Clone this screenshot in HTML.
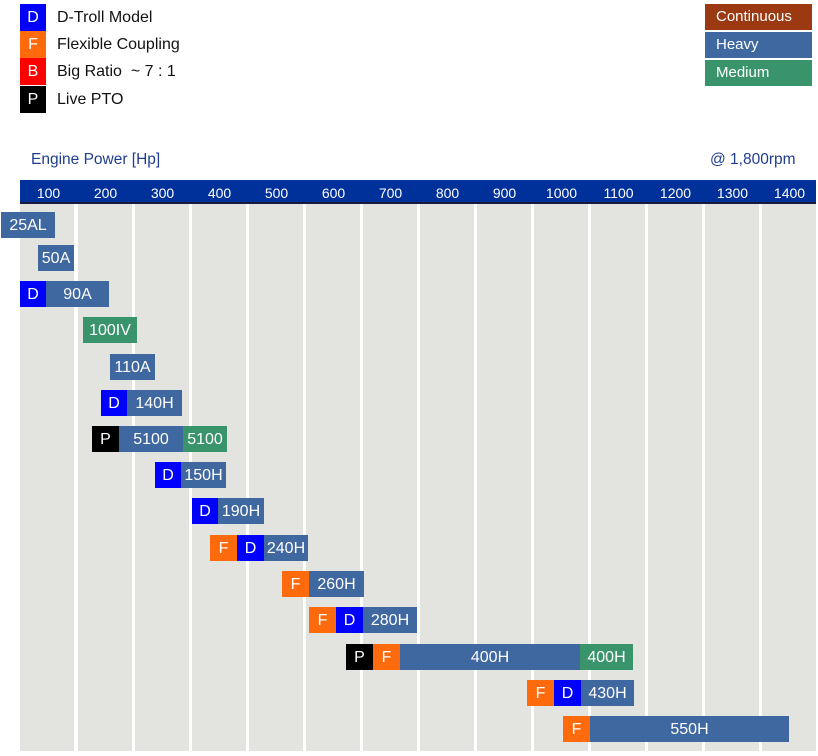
<!DOCTYPE html>
<html><head><meta charset="utf-8"><style>
body{margin:0;width:818px;height:756px;background:#fff;position:relative;overflow:hidden;font-family:"Liberation Sans",sans-serif}
div{position:absolute;box-sizing:border-box}
.col{top:204px;height:547px;width:54px;background:#e3e3e0}
.b{height:26px;color:#fff;font-size:16px;line-height:28px;text-align:center}
.H{background:#3f67a0}.M{background:#3a946b}.D{background:#0000ff}.F{background:#ff6a0d}.P{background:#000}.B{background:#ff0000}
.lg{left:20px;width:26px;height:27px;color:#fff;font-size:16px;line-height:28px;text-align:center}
.lt{left:57px;font-size:16px;line-height:28px;color:#111}
.rl{left:705px;width:107px;height:26px;color:#fff;font-size:15px;line-height:26px;padding-left:11px}
.tk{top:180px;width:57px;height:24px;color:#fff;font-size:14px;line-height:27px;text-align:center}
</style></head><body>
<div class="lg D" style="top:4px">D</div><div class="lt" style="top:4px">D-Troll Model</div>
<div class="lg F" style="top:31px">F</div><div class="lt" style="top:31px">Flexible Coupling</div>
<div class="lg B" style="top:58px">B</div><div class="lt" style="top:58px">Big Ratio &nbsp;~ 7 : 1</div>
<div class="lg P" style="top:86px">P</div><div class="lt" style="top:86px">Live PTO</div>
<div class="rl" style="top:4px;background:#9b3a12">Continuous</div>
<div class="rl" style="top:32px;background:#3f67a0">Heavy</div>
<div class="rl" style="top:60px;background:#3a946b">Medium</div>
<div style="left:31px;top:151px;font-size:15.5px;color:#1f3d8f">Engine Power [Hp]</div>
<div style="left:710px;top:151px;font-size:15.5px;color:#1f3d8f">@ 1,800rpm</div>
<div style="left:20px;top:180px;width:796px;height:24px;background:#00309a;border-bottom:2px solid #1a1a40"></div>
<div class="col" style="left:20px"></div><div class="col" style="left:78px"></div><div class="col" style="left:135px"></div><div class="col" style="left:192px"></div><div class="col" style="left:249px"></div><div class="col" style="left:306px"></div><div class="col" style="left:363px"></div><div class="col" style="left:420px"></div><div class="col" style="left:477px"></div><div class="col" style="left:534px"></div><div class="col" style="left:591px"></div><div class="col" style="left:648px"></div><div class="col" style="left:705px"></div><div class="col" style="left:762px"></div>
<div class="tk" style="left:20px">100</div><div class="tk" style="left:77px">200</div><div class="tk" style="left:134px">300</div><div class="tk" style="left:191px">400</div><div class="tk" style="left:248px">500</div><div class="tk" style="left:305px">600</div><div class="tk" style="left:362px">700</div><div class="tk" style="left:419px">800</div><div class="tk" style="left:476px">900</div><div class="tk" style="left:533px">1000</div><div class="tk" style="left:590px">1100</div><div class="tk" style="left:647px">1200</div><div class="tk" style="left:704px">1300</div><div class="tk" style="left:761px">1400</div>

<div class="b H" style="left:1px;top:212px;width:54px">25AL</div>
<div class="b H" style="left:38px;top:245px;width:36px">50A</div>
<div class="b D" style="left:20px;top:281px;width:26px">D</div><div class="b H" style="left:46px;top:281px;width:63px">90A</div>
<div class="b M" style="left:83px;top:317px;width:54px">100IV</div>
<div class="b H" style="left:110px;top:354px;width:45px">110A</div>
<div class="b D" style="left:101px;top:390px;width:26px">D</div><div class="b H" style="left:127px;top:390px;width:55px">140H</div>
<div class="b P" style="left:92px;top:426px;width:27px">P</div><div class="b H" style="left:119px;top:426px;width:64px">5100</div><div class="b M" style="left:183px;top:426px;width:44px">5100</div>
<div class="b D" style="left:155px;top:462px;width:26px">D</div><div class="b H" style="left:181px;top:462px;width:45px">150H</div>
<div class="b D" style="left:192px;top:498px;width:26px">D</div><div class="b H" style="left:218px;top:498px;width:46px">190H</div>
<div class="b F" style="left:210px;top:535px;width:27px">F</div><div class="b D" style="left:237px;top:535px;width:27px">D</div><div class="b H" style="left:264px;top:535px;width:44px">240H</div>
<div class="b F" style="left:282px;top:571px;width:27px">F</div><div class="b H" style="left:309px;top:571px;width:55px">260H</div>
<div class="b F" style="left:309px;top:607px;width:27px">F</div><div class="b D" style="left:336px;top:607px;width:27px">D</div><div class="b H" style="left:363px;top:607px;width:54px">280H</div>
<div class="b P" style="left:346px;top:644px;width:27px">P</div><div class="b F" style="left:373px;top:644px;width:27px">F</div><div class="b H" style="left:400px;top:644px;width:180px">400H</div><div class="b M" style="left:580px;top:644px;width:53px">400H</div>
<div class="b F" style="left:527px;top:680px;width:27px">F</div><div class="b D" style="left:554px;top:680px;width:27px">D</div><div class="b H" style="left:581px;top:680px;width:53px">430H</div>
<div class="b F" style="left:563px;top:716px;width:27px">F</div><div class="b H" style="left:590px;top:716px;width:199px">550H</div>
</body></html>
